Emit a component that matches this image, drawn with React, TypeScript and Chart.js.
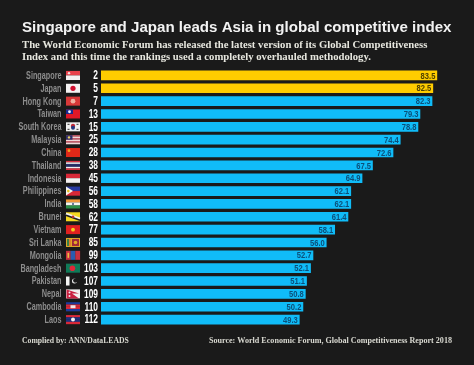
import React, { useEffect, useRef } from "react";
import { Chart, registerables } from "chart.js";

Chart.register(...registerables);

const countries = ["Singapore","Japan","Hong Kong","Taiwan","South Korea","Malaysia","China","Thailand","Indonesia","Philippines","India","Brunei","Vietnam","Sri Lanka","Mongolia","Bangladesh","Pakistan","Nepal","Cambodia","Laos"];
const ranks = [2,5,7,13,15,25,28,38,45,56,58,62,77,85,99,103,107,109,110,112];
const scores = [83.5,82.5,82.3,79.3,78.8,74.4,72.6,67.5,64.9,62.1,62.1,61.4,58.1,56.0,52.7,52.1,51.1,50.8,50.2,49.3];
const highlighted = ["Singapore","Japan"];

const titleText = "Singapore and Japan leads Asia in global competitive index";
const subtitleLines = [
  "The World Economic Forum has released the latest version of its Global Competitiveness",
  "Index and this time the rankings used a completely overhauled methodology.",
];
const footerLeft = "Complied by: ANN/DataLEADS";
const footerRight = "Source: World Economic Forum, Global Competitiveness Report 2018";

const BG = "#1a1a1a";
const BLUE = "#10bcf8";
const YELLOW = "#ffcc00";

type Ctx = CanvasRenderingContext2D;
const W = 14, H = 9;
const rect = (c: Ctx, col: string, x: number, y: number, w: number, h: number) => { c.fillStyle = col; c.fillRect(x, y, w, h); };
const disc = (c: Ctx, col: string, x: number, y: number, r: number) => { c.fillStyle = col; c.beginPath(); c.arc(x, y, r, 0, Math.PI * 2); c.fill(); };
const stripes = (c: Ctx, cols: string[], x: number, y: number) => { const h = H / cols.length; cols.forEach((col, i) => rect(c, col, x, y + i * h, W, h + 0.1)); };
const cols3 = (c: Ctx, cols: string[], x: number, y: number, w: number) => cols.forEach((col, i) => rect(c, col, x + i * w, y, w + 0.1, H));

const flags: Record<string, (c: Ctx, x: number, y: number) => void> = {
  Singapore: (c, x, y) => { stripes(c, ["#e8404a", "#f4f0f0"], x, y); disc(c, "#f4e0e0", x + 3, y + 2.2, 1.2); },
  Japan: (c, x, y) => { rect(c, "#f4f2f2", x, y, W, H); disc(c, "#d01030", x + 7, y + 4.5, 2.6); },
  "Hong Kong": (c, x, y) => { rect(c, "#d83838", x, y, W, H); disc(c, "#f0b0a0", x + 7, y + 4.5, 2.4); },
  Taiwan: (c, x, y) => { rect(c, "#e01828", x, y, W, H); rect(c, "#1a2a90", x, y, 7, 4.5); disc(c, "#f0f0f8", x + 3.5, y + 2.25, 1.4); },
  "South Korea": (c, x, y) => { rect(c, "#f0f0f0", x, y, W, H); disc(c, "#c02838", x + 7, y + 3.7, 2.2); disc(c, "#203880", x + 7, y + 5.3, 2); rect(c, "#333", x + 1.5, y + 1.5, 2, 1); rect(c, "#333", x + 10.5, y + 1.5, 2, 1); rect(c, "#333", x + 1.5, y + 6.5, 2, 1); rect(c, "#333", x + 10.5, y + 6.5, 2, 1); },
  Malaysia: (c, x, y) => { stripes(c, ["#d86070", "#f0d8d8", "#d86070", "#f0d8d8", "#d86070", "#f0d8d8"], x, y); rect(c, "#30306a", x, y, 6.5, 4.5); disc(c, "#e8d060", x + 3, y + 2.2, 1.2); },
  China: (c, x, y) => { rect(c, "#e02818", x, y, W, H); disc(c, "#f0a020", x + 3, y + 2.6, 1.4); },
  Thailand: (c, x, y) => { stripes(c, ["#d83040", "#f0f0f0", "#28306c", "#28306c", "#f0f0f0", "#d83040"], x, y); },
  Indonesia: (c, x, y) => { stripes(c, ["#d82838", "#f4f0f0"], x, y); },
  Philippines: (c, x, y) => {
    stripes(c, ["#2838a0", "#d82838"], x, y);
    c.fillStyle = "#f4f4f0"; c.beginPath(); c.moveTo(x, y); c.lineTo(x + 7, y + 4.5); c.lineTo(x, y + 9); c.closePath(); c.fill();
    disc(c, "#e8c020", x + 2.3, y + 4.5, 1.3);
  },
  India: (c, x, y) => { stripes(c, ["#f09838", "#f4f4f0", "#2c9048"], x, y); disc(c, "#405080", x + 7, y + 4.5, 1); },
  Brunei: (c, x, y) => {
    rect(c, "#f4d820", x, y, W, H);
    c.strokeStyle = "#f4f4f4"; c.lineWidth = 2; c.beginPath(); c.moveTo(x, y + 1.5); c.lineTo(x + W, y + 6.5); c.stroke();
    c.strokeStyle = "#222"; c.lineWidth = 1.6; c.beginPath(); c.moveTo(x, y + 3); c.lineTo(x + W, y + 8); c.stroke();
    disc(c, "#c03030", x + 7, y + 4.5, 1.3);
  },
  Vietnam: (c, x, y) => { rect(c, "#e02020", x, y, W, H); disc(c, "#f0d020", x + 7, y + 4.5, 1.9); },
  "Sri Lanka": (c, x, y) => { rect(c, "#e0a828", x, y, W, H); rect(c, "#3c8048", x + 1, y + 1, 2, 7); rect(c, "#e08028", x + 3, y + 1, 2, 7); rect(c, "#a02838", x + 6, y + 1, 7, 7); disc(c, "#e0a828", x + 9.5, y + 4.5, 1.8); },
  Mongolia: (c, x, y) => { cols3(c, ["#c83040", "#2a5cb0", "#c83040"], x, y, W / 3); rect(c, "#e8c040", x + 1.5, y + 2, 1.6, 5); },
  Bangladesh: (c, x, y) => { rect(c, "#107a58", x, y, W, H); disc(c, "#e02838", x + 6.4, y + 4.5, 2.8); },
  Pakistan: (c, x, y) => {
    rect(c, "#1a1a1a", x, y, W, H); rect(c, "#f4f4f4", x, y, 3.5, H);
    disc(c, "#f0f0f0", x + 8.5, y + 4.5, 2.5); disc(c, "#1a1a1a", x + 9.3, y + 3.9, 2.2);
  },
  Nepal: (c, x, y) => {
    rect(c, "#f0f0f0", x, y, W, H);
    c.fillStyle = "#c82040"; c.beginPath(); c.moveTo(x + 0.5, y); c.lineTo(x + 13, y + 4); c.lineTo(x + 6, y + 4); c.lineTo(x + 13, y + 9); c.lineTo(x + 0.5, y + 9); c.closePath(); c.fill();
    disc(c, "#f0f0f0", x + 3.5, y + 3, 1); disc(c, "#f0f0f0", x + 3.5, y + 6.6, 1);
  },
  Cambodia: (c, x, y) => { stripes(c, ["#1c3a9c", "#d82838", "#d82838", "#1c3a9c"], x, y); rect(c, "#f0e8e8", x + 4.5, y + 3, 5, 3); },
  Laos: (c, x, y) => { stripes(c, ["#d82838", "#1c3080", "#1c3080", "#d82838"], x, y); disc(c, "#f4f4f4", x + 7, y + 4.5, 2); },
};

const squeezed = (c: Ctx, text: string, x: number, y: number, k: number) => {
  c.save();
  c.translate(x, y);
  c.scale(k, 1);
  c.fillText(text, 0, 0);
  c.restore();
};

const rowsPlugin = {
  id: "rows",
  afterDatasetsDraw(chart: any) {
    const c: Ctx = chart.ctx;
    const yS = chart.scales.y, xS = chart.scales.x;
    c.save();
    c.textAlign = "left";
    c.textBaseline = "alphabetic";
    c.font = "bold 15.1px 'Liberation Sans'";
    c.fillStyle = "#f2f2f2";
    c.fillText(titleText, 22, 32);
    c.font = "bold 10.7px 'Liberation Serif'";
    c.fillStyle = "#e6e6de";
    subtitleLines.forEach((line, i) => c.fillText(line, 22, 48 + i * 11.5));

    countries.forEach((name, i) => {
      const y = yS.getPixelForValue(i);
      const left = xS.left;
      flags[name]?.(c, left - 35, y - H / 2);
      c.textBaseline = "middle";
      c.textAlign = "right";
      c.font = "bold 10.5px 'Liberation Sans'";
      c.fillStyle = "#8c8c8c";
      squeezed(c, yS.getLabelForValue(i), left - 39.5, y + 0.5, 0.69);
      c.font = "bold 12px 'Liberation Sans'";
      c.fillStyle = "#ffffff";
      squeezed(c, String(ranks[i]), left - 3, y + 0.5, 0.7);
      c.font = "bold 9.5px 'Liberation Sans'";
      c.fillStyle = highlighted.includes(name) ? "#4d3f00" : "#0b4f7a";
      squeezed(c, scores[i].toFixed(1), xS.getPixelForValue(scores[i]) - 1.5, y + 0.5, 0.8);
    });
    c.fillStyle = "#d8d8d0";
    c.textBaseline = "alphabetic";
    c.textAlign = "left";
    c.font = "bold 7.7px 'Liberation Serif'";
    c.fillText(footerLeft, 22, 343);
    c.textAlign = "right";
    c.font = "bold 8.1px 'Liberation Serif'";
    c.fillText(footerRight, 452, 343);
    c.restore();
  },
};

export default function App() {
  const ref = useRef<HTMLCanvasElement>(null);
  useEffect(() => {
    document.body.style.margin = "0";
    document.body.style.background = BG;
    const chart = new Chart(ref.current!, {
      type: "bar",
      data: {
        labels: countries,
        datasets: [{
          data: scores,
          backgroundColor: countries.map((n) => (highlighted.includes(n) ? YELLOW : BLUE)),
          barThickness: 9,
        }],
      },
      plugins: [rowsPlugin],
      options: {
        indexAxis: "y",
        responsive: false,
        animation: false,
        layout: { padding: { left: 0, right: 11, top: 69, bottom: 39 } },
        plugins: {
          legend: { display: false },
          tooltip: { enabled: false },
        },
        scales: {
          x: { display: false, min: 0, max: 90 },
          y: {
            grid: { display: false },
            border: { display: false },
            ticks: { display: false, autoSkip: false },
            afterFit(s: any) { s.width = 101; },
          },
        },
      },
    } as any);
    return () => chart.destroy();
  }, []);
  return <canvas ref={ref} width={474} height={365} style={{ display: "block", background: BG }} />;
}
